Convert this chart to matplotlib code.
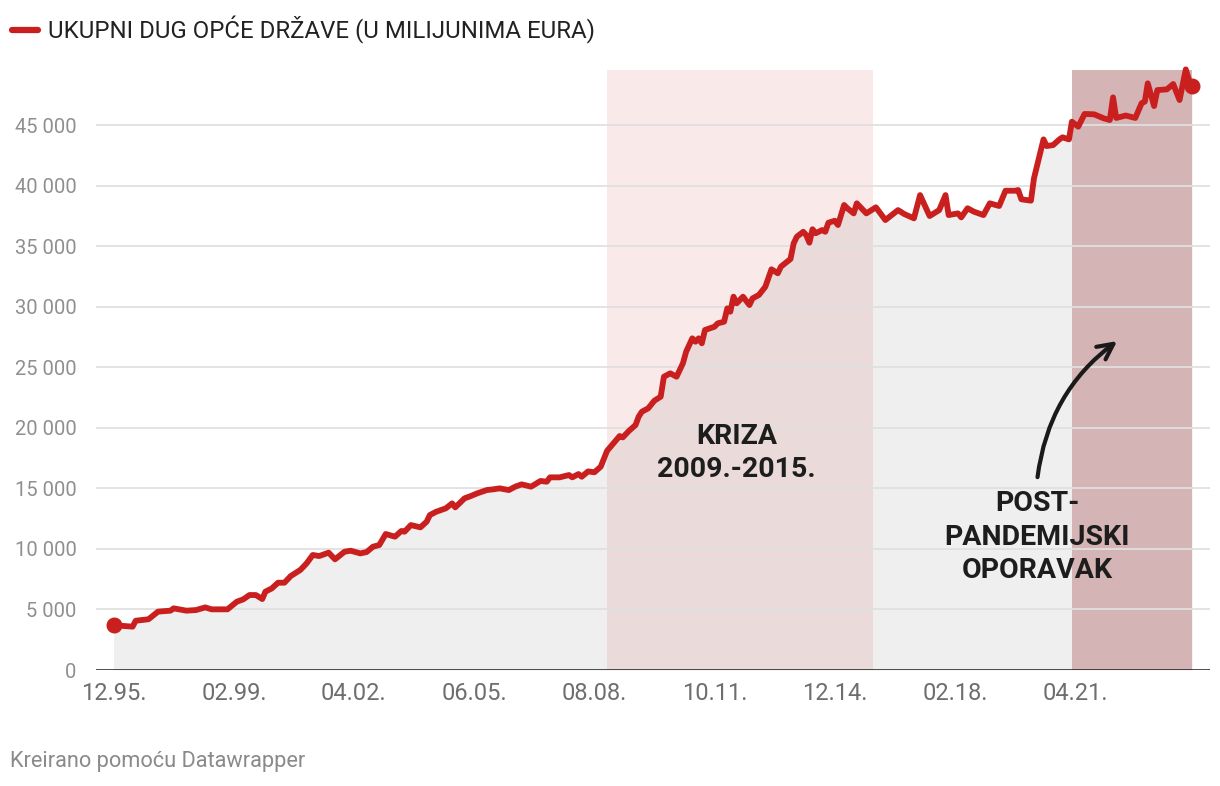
import numpy as np
import pandas as pd
import matplotlib
matplotlib.use('Agg')
import matplotlib.pyplot as plt
from matplotlib.lines import Line2D

plt.rcParams['font.family'] = ['Roboto', 'DejaVu Sans']

# total general government debt, million EUR
months = ['1995-12', '1996-06', '1996-07', '1996-11', '1997-02', '1997-06', '1997-07', '1997-11',
          '1998-02', '1998-05', '1998-07', '1998-12', '1999-03', '1999-05', '1999-07', '1999-09',
          '1999-11', '1999-12', '2000-02', '2000-04', '2000-06', '2000-08', '2000-11', '2001-01',
          '2001-03', '2001-05', '2001-08', '2001-10', '2002-01', '2002-03', '2002-06', '2002-08',
          '2002-10', '2002-12', '2003-02', '2003-05', '2003-07', '2003-08', '2003-10', '2004-01',
          '2004-03', '2004-04', '2004-06', '2004-09', '2004-11', '2004-12', '2005-03', '2005-05',
          '2005-07', '2005-10', '2005-12', '2006-02', '2006-05', '2006-07', '2006-09', '2006-12',
          '2007-03', '2007-05', '2007-06', '2007-09', '2007-12', '2008-01', '2008-03', '2008-04',
          '2008-06', '2008-08', '2008-10', '2008-12', '2009-02', '2009-04', '2009-05', '2009-07',
          '2009-09', '2009-10', '2009-11', '2010-01', '2010-03', '2010-05', '2010-06', '2010-08',
          '2010-10', '2010-12', '2011-01', '2011-03', '2011-04', '2011-05', '2011-06', '2011-07',
          '2011-10', '2011-11', '2012-01', '2012-02', '2012-03', '2012-04', '2012-05', '2012-07',
          '2012-09', '2012-10', '2012-12', '2013-02', '2013-04', '2013-06', '2013-07', '2013-10',
          '2013-11', '2013-12', '2014-02', '2014-03', '2014-04', '2014-05', '2014-06', '2014-08',
          '2014-09', '2014-10', '2014-12', '2015-01', '2015-03', '2015-04', '2015-06', '2015-07',
          '2015-10', '2016-01', '2016-04', '2016-08', '2016-10', '2017-01', '2017-03', '2017-06',
          '2017-07', '2017-09', '2017-11', '2017-12', '2018-03', '2018-04', '2018-06', '2018-08',
          '2018-11', '2019-01', '2019-04', '2019-06', '2019-09', '2019-10', '2019-11', '2020-02',
          '2020-03', '2020-06', '2020-07', '2020-09', '2020-11', '2020-12', '2021-02', '2021-03',
          '2021-05', '2021-07', '2021-10', '2022-01', '2022-03', '2022-04', '2022-05', '2022-08',
          '2022-11', '2023-01', '2023-02', '2023-03', '2023-05', '2023-06', '2023-09', '2023-11',
          '2024-01', '2024-03', '2024-04', '2024-05']
debt = [3700, 3580, 4070, 4190, 4820, 4900, 5090, 4900,
        4950, 5170, 5010, 5010, 5640, 5830, 6190, 6190,
        5860, 6470, 6740, 7210, 7210, 7760, 8260, 8810,
        9500, 9410, 9690, 9140, 9770, 9850, 9630, 9740,
        10180, 10320, 11230, 11010, 11480, 11420, 11970, 11780,
        12250, 12800, 13070, 13350, 13760, 13430, 14180, 14370,
        14590, 14860, 14920, 15000, 14860, 15140, 15330, 15140,
        15610, 15550, 15910, 15910, 16100, 15910, 16180, 15960,
        16400, 16330, 16790, 18100, 18720, 19320, 19210, 19760,
        20230, 20920, 21330, 21610, 22240, 22570, 24220, 24500,
        24220, 25330, 26290, 27390, 27110, 27390, 26980, 28080,
        28350, 28630, 28760, 29870, 29590, 30830, 30280, 30830,
        30140, 30690, 30970, 31650, 33090, 32760, 33310, 33940,
        35240, 35780, 36190, 35920, 35290, 36400, 36070, 36330,
        36190, 36940, 37100, 36750, 38400, 38130, 37710, 38540,
        37710, 38210, 37160, 37980, 37650, 37300, 39220, 37490,
        37650, 37980, 39220, 37570, 37710, 37380, 38130, 37850,
        37570, 38540, 38320, 39580, 39580, 39640, 38870, 38760,
        40600, 43820, 43270, 43350, 43820, 43990, 43820, 45280,
        44870, 45920, 45890, 45560, 45420, 47290, 45590, 45790,
        45590, 46810, 46940, 48450, 46570, 47890, 47950, 48390,
        47070, 49600, 48720, 48220]

tick_months = ['1995-12', '1999-02', '2002-04', '2005-06', '2008-08', '2011-10', '2014-12', '2018-02', '2021-04']
tick_labels = ['12.95.', '02.99.', '04.02.', '06.05.', '08.08.', '10.11.', '12.14.', '02.18.', '04.21.']
y_ticks = [0, 5000, 10000, 15000, 20000, 25000, 30000, 35000, 40000, 45000]

crisis = ('2008-12', '2015-12')
recovery = ('2021-03', '2024-05')

df = pd.DataFrame({'date': pd.to_datetime(months), 'debt': debt})

red = '#c91f1f'

fig = plt.figure(figsize=(12.2, 7.86), dpi=100)
ax = fig.add_axes([96 / 1220, 116 / 786, 1114 / 1220, 600 / 786])

ax.fill_between(df['date'], df['debt'], 0, color='#efefef', lw=0, zorder=1)
ax.axvspan(pd.Timestamp(crisis[0]), pd.Timestamp(crisis[1]), color='#c62828', alpha=0.1, lw=0, zorder=2)
ax.axvspan(pd.Timestamp(recovery[0]), pd.Timestamp(recovery[1]), color='#d4b4b4', lw=0, zorder=2)

for yv in y_ticks[1:]:
    ax.axhline(yv, color='#e0e0e0', lw=1.3, zorder=2.5)
ax.axhline(0, color='#1a1a1a', lw=1.8, zorder=4)

ax.plot(df['date'], df['debt'], color=red, lw=4.2, solid_joinstyle='round', zorder=5, clip_on=False)
ax.plot(df['date'].iloc[[0, -1]], df['debt'].iloc[[0, -1]], 'o', color=red, ms=10.5, zorder=6, clip_on=False)

ax.set_xlim(pd.Timestamp('1995-06-15'), pd.Timestamp('2024-10-20'))
ax.set_ylim(0, 49550)

ax.set_xticks(pd.to_datetime(tick_months))
ax.set_xticklabels(tick_labels, fontsize=17, color='#6e6e6e')
ax.set_yticks(y_ticks)
ax.set_yticklabels([f'{v:,}'.replace(',', ' ') for v in y_ticks], fontsize=14.5, color='#8f8f8f')
ax.tick_params(length=0)
ax.tick_params(axis='x', pad=9)
ax.tick_params(axis='y', pad=14)
for s in ax.spines.values():
    s.set_visible(False)

ax.text(pd.Timestamp('2012-05-01'), 17900, 'KRIZA\n2009.-2015.', ha='center', va='center',
        fontsize=20.5, fontweight='bold', color='#1d1d1d', linespacing=1.28, zorder=7)
ax.text(pd.Timestamp('2020-04-01'), 10980, 'POST-\nPANDEMIJSKI\nOPORAVAK', ha='center', va='center',
        fontsize=20.5, fontweight='bold', color='#1d1d1d', linespacing=1.3, zorder=7)
ax.annotate('', xy=(pd.Timestamp('2022-06-01'), 27300), xytext=(pd.Timestamp('2020-04-01'), 15700),
            arrowprops=dict(arrowstyle='->', color='#1a1a1a', lw=3, mutation_scale=28,
                            connectionstyle='arc3,rad=-0.22'), zorder=7)

# legend / title line
fig.add_artist(Line2D([12 / 1220, 38 / 1220], [1 - 30 / 786, 1 - 30 / 786], color=red, lw=4.5,
                      solid_capstyle='round'))
fig.text(48 / 1220, 1 - 30 / 786, 'UKUPNI DUG OPĆE DRŽAVE (U MILIJUNIMA EURA)', fontsize=17.3,
         color='#222222', va='center', ha='left')
fig.text(10 / 1220, 1 - 762 / 786, 'Kreirano pomoću Datawrapper', fontsize=15.7, color='#8a8a8a',
         va='center', ha='left')

fig.savefig('out.png', dpi=100, facecolor='white')
